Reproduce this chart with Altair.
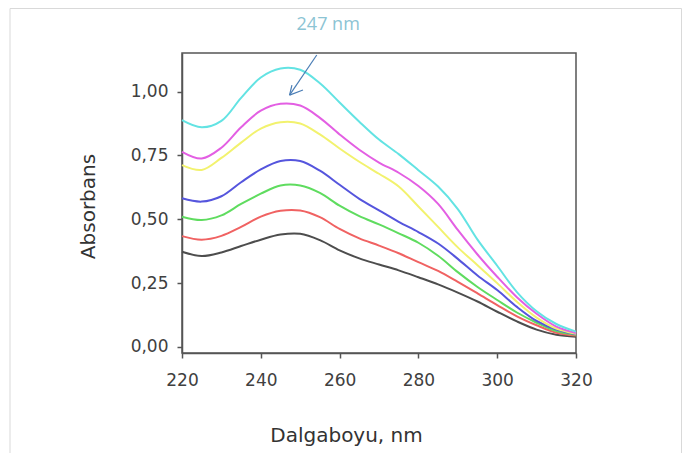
import altair as alt
import pandas as pd

wavelength = [220, 225, 230, 235, 240, 245, 250, 255, 260, 265, 270,
              275, 280, 285, 290, 295, 300, 305, 310, 315, 320]

s_black = [0.373, 0.356, 0.370, 0.395, 0.420, 0.440, 0.443, 0.418, 0.378, 0.347, 0.323,
           0.300, 0.273, 0.245, 0.213, 0.178, 0.138, 0.100, 0.068, 0.048, 0.040]
s_red = [0.434, 0.420, 0.435, 0.470, 0.510, 0.533, 0.534, 0.508, 0.462, 0.425, 0.397,
         0.367, 0.332, 0.298, 0.255, 0.210, 0.164, 0.120, 0.085, 0.056, 0.045]
s_green = [0.510, 0.497, 0.515, 0.560, 0.600, 0.632, 0.632, 0.603, 0.553, 0.512, 0.480,
           0.445, 0.408, 0.357, 0.293, 0.235, 0.184, 0.135, 0.095, 0.062, 0.048]
s_blue = [0.582, 0.569, 0.590, 0.645, 0.695, 0.728, 0.728, 0.690, 0.635, 0.580, 0.535,
          0.490, 0.450, 0.405, 0.345, 0.280, 0.223, 0.157, 0.102, 0.068, 0.050]
s_yellow = [0.712, 0.693, 0.740, 0.800, 0.855, 0.880, 0.875, 0.832, 0.777, 0.725, 0.678,
            0.628, 0.550, 0.470, 0.390, 0.320, 0.250, 0.177, 0.115, 0.072, 0.052]
s_magenta = [0.764, 0.738, 0.780, 0.860, 0.925, 0.952, 0.945, 0.897, 0.832, 0.772, 0.722,
             0.682, 0.630, 0.560, 0.458, 0.362, 0.275, 0.195, 0.130, 0.080, 0.055]
s_cyan = [0.888, 0.860, 0.885, 0.975, 1.055, 1.090, 1.085, 1.032, 0.957, 0.882, 0.812,
          0.755, 0.692, 0.628, 0.540, 0.420, 0.318, 0.215, 0.140, 0.090, 0.060]

series_names = ["s1", "s2", "s3", "s4", "s5", "s6", "s7"]
series_values = [s_black, s_red, s_green, s_blue, s_yellow, s_magenta, s_cyan]
series_colors = ["#4d4d4d", "#f06262", "#5fdc5f", "#5555dd", "#f2f26e", "#e35fe3", "#63e3e3"]

y_ticks = [0, 0.25, 0.5, 0.75, 1.0]
x_ticks = [220, 240, 260, 280, 300, 320]

# annotation
ann_text = ["247 nm"]
ann_x = [257.1]
ann_y = [1.262]
arrow_x = [254.2, 247.3]
arrow_y = [1.143, 0.986]
head_x = [247.9, 250.7]
head_y = [1.025, 1.006]

rows = []
for name, vals in zip(series_names, series_values):
    for w, v in zip(wavelength, vals):
        rows.append({"nm": w, "A": v, "series": name})
df = pd.DataFrame(rows)

xscale = alt.Scale(domain=[220, 320], nice=False, zero=False)
yscale = alt.Scale(domain=[-0.0235, 1.1507], nice=False, zero=False)

lines = alt.Chart(df).mark_line(strokeWidth=2, interpolate="catmull-rom").encode(
    x=alt.X("nm:Q", scale=xscale,
            axis=alt.Axis(values=x_ticks, title="Dalgaboyu, nm", grid=False, labelFlush=False,
                          labelFont="DejaVu Sans", labelFontSize=17, labelColor="#404040",
                          labelPadding=14, tickSize=5, tickColor="#555555", tickWidth=1.5,
                          domainColor="#555555", domainWidth=1.5,
                          titleFont="DejaVu Sans", titleFontSize=20, titleFontWeight="normal",
                          titleColor="#333333", titleX=164, titleY=82,
                          titleBaseline="middle", titleAlign="center")),
    y=alt.Y("A:Q", scale=yscale,
            axis=alt.Axis(values=y_ticks, title="Absorbans", grid=False, labelFlush=False,
                          labelExpr="replace(format(datum.value, '.2f'), '.', ',')",
                          labelFont="DejaVu Sans", labelFontSize=17, labelColor="#404040",
                          labelPadding=9, tickSize=5, tickColor="#555555", tickWidth=1.5,
                          domainColor="#555555", domainWidth=1.5,
                          titleFont="DejaVu Sans", titleFontSize=20, titleFontWeight="normal",
                          titleColor="#333333", titleX=-94, titleY=153,
                          titleBaseline="middle", titleAlign="center", titleAngle=270)),
    color=alt.Color("series:N", scale=alt.Scale(domain=series_names, range=series_colors),
                    legend=None),
    detail="series:N",
)

arrow_df = pd.DataFrame({"x": [arrow_x[0]], "y": [arrow_y[0]],
                         "x2": [arrow_x[1]], "y2": [arrow_y[1]]})
shaft = alt.Chart(arrow_df).mark_rule(color="#4a7db5", strokeWidth=1.2).encode(
    x=alt.X("x:Q", scale=xscale), y=alt.Y("y:Q", scale=yscale), x2="x2:Q", y2="y2:Q")

head_df = pd.DataFrame({"x": head_x, "y": head_y,
                        "x2": [arrow_x[1]] * 2, "y2": [arrow_y[1]] * 2})
head = alt.Chart(head_df).mark_rule(color="#4a7db5", strokeWidth=1.2).encode(
    x=alt.X("x:Q", scale=xscale), y=alt.Y("y:Q", scale=yscale), x2="x2:Q", y2="y2:Q")

text_df = pd.DataFrame({"x": ann_x, "y": ann_y, "t": ann_text})
label = alt.Chart(text_df).mark_text(font="Open Sans", fontSize=18, color="#8cc4d4",
                                     align="center", baseline="middle").encode(
    x=alt.X("x:Q", scale=xscale), y=alt.Y("y:Q", scale=yscale), text="t:N")

one = pd.DataFrame({"a": [0]})
frame_color = "#d9d9d9"
frame_top = alt.Chart(one).mark_rule(color=frame_color, strokeWidth=1).encode(
    x=alt.value(-172), x2=alt.value(499.5), y=alt.value(-44.5), y2=alt.value(-44.5))
frame_left = alt.Chart(one).mark_rule(color=frame_color, strokeWidth=1).encode(
    x=alt.value(-172), x2=alt.value(-172), y=alt.value(-44.5), y2=alt.value(400))
frame_right = alt.Chart(one).mark_rule(color=frame_color, strokeWidth=1).encode(
    x=alt.value(499.5), x2=alt.value(499.5), y=alt.value(-44.5), y2=alt.value(400))

chart = alt.layer(frame_top, frame_left, frame_right, lines, shaft, head, label).properties(
    width=394, height=300,
    autosize=alt.AutoSizeParams(type="none"),
    padding={"left": 174, "top": 45, "right": 106, "bottom": 100},
    background="white",
).configure_view(stroke="#555555", strokeWidth=1.5)

chart.save("out.html", embed_options={"renderer": "svg", "actions": False})
